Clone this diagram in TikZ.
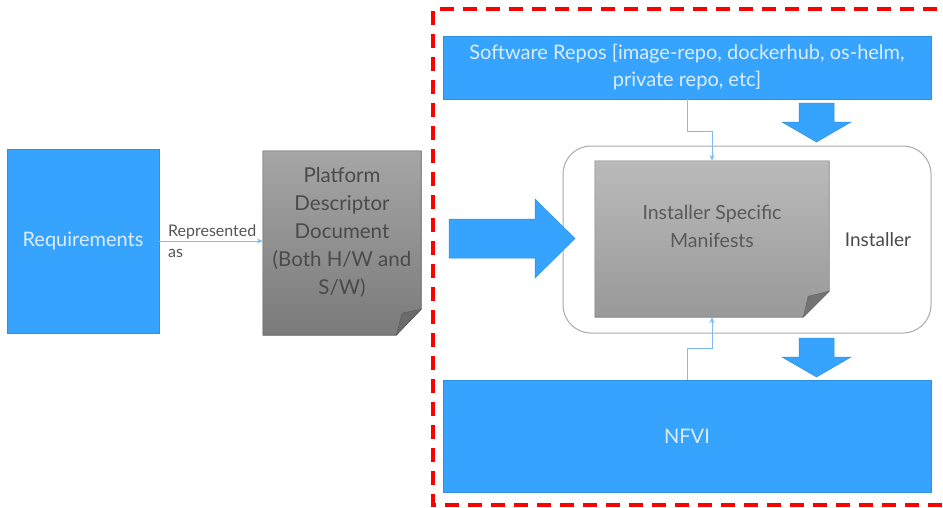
\documentclass[tikz,border=0pt]{standalone}
\usepackage{fontspec}
\setmainfont{Lato}
\usetikzlibrary{calc,arrows.meta}
\definecolor{blu}{HTML}{36A3FF}
\definecolor{bluborder}{HTML}{2F8FE0}
\definecolor{blutext}{HTML}{DCECFB}
\definecolor{connc}{HTML}{7DBDF5}
\definecolor{txtgray}{HTML}{4A4A4A}
\definecolor{lblgray}{HTML}{555555}
\definecolor{instborder}{HTML}{AAAAAA}
\begin{document}
\begin{tikzpicture}[x=1pt,y=-1pt,
  bluebox/.style={draw=bluborder, fill=blu, line width=0.8pt, text=blutext,
    font=\fontsize{20}{27}\selectfont, align=center, inner sep=0pt},
  connector/.style={draw=connc, line width=0.8pt, -{Stealth[length=6pt,width=5pt]}},
  blockarrow/.style={fill=blu, draw=bluborder, line width=0.5pt},
  docbox/.style={inner sep=0pt},
  doctext/.style={text=txtgray, align=center},
]
\useasboundingbox (0,0) rectangle (943,507);
\fill[white] (0,0) rectangle (943,507);

% red dashed boundary
\draw[red, line width=3.5pt, dash pattern=on 14pt off 9pt] (960,9) -- (433,9) -- (433,505) -- (960,505);

% Requirements
\node[bluebox, minimum width=152pt, minimum height=184pt] (req) at (83,241) {Requirements};

% Platform descriptor document
\node[docbox, minimum width=158pt, minimum height=184pt] (pdd) at (342,243) {};
\shade[top color=black!35, bottom color=black!52, draw=black!65, line width=0.6pt]
  (pdd.north west) -- (pdd.north east) -- ([yshift=26pt]pdd.south east)
  -- ([xshift=-25pt]pdd.south east) -- (pdd.south west) -- cycle;
\fill[black!58, draw=black!65, line width=0.4pt] ([xshift=-25pt]pdd.south east) -- ([yshift=26pt]pdd.south east)
  -- ([xshift=-19pt,yshift=22pt]pdd.south east) -- cycle;
\node[doctext, font=\fontsize{20.5}{28}\selectfont, anchor=north] (pddtext) at ([yshift=-13pt]pdd.north)
  {Platform\\Descriptor\\Document\\(Both H/W and\\S/W)};

% arrow Requirements -> PDD
\draw[connector] (req.east) -- (req.east -| pdd.west)
  node[pos=0, anchor=west, xshift=5pt, align=left, text=lblgray,
       font=\fontsize{16}{21}\selectfont] (lbl) {Represented\\as};

% Software repos
\node[bluebox, minimum width=488pt, minimum height=63pt] (repos) at (687,67.5)
  {Software Repos [image-repo, dockerhub, os-helm,\\private repo, etc]};

% Installer
\node[draw=instborder, line width=1pt, rounded corners=28pt, minimum width=368pt,
      minimum height=187pt, text width=328pt, inner xsep=20pt, align=right,
      text=txtgray, font=\fontsize{19}{27}\selectfont] (inst) at (747,239.5) {Installer};

% Installer specific manifests
\node[docbox, minimum width=234pt, minimum height=156pt] (man) at (712,239) {};
\shade[top color=black!27, bottom color=black!40, draw=black!50, line width=0.6pt]
  (man.north west) -- (man.north east) -- ([yshift=26pt]man.south east)
  -- ([xshift=-26pt]man.south east) -- (man.south west) -- cycle;
\fill[black!55, draw=black!60, line width=0.4pt] ([xshift=-26pt]man.south east) -- ([yshift=26pt]man.south east)
  -- ([xshift=-21pt,yshift=21pt]man.south east) -- cycle;
\node[doctext, font=\fontsize{19.5}{28}\selectfont, text=black!65] (mantext) at (712,226.5)
  {Installer Specific\\Manifests};

% NFVI
\node[bluebox, minimum width=488pt, minimum height=112pt] (nfvi) at (687,436) {NFVI};

% block arrows
\path[blockarrow] (449,219) -- (535,219) -- (535,199) -- (575,238.5) -- (535,278)
  -- (535,258) -- (449,258) -- cycle;
\path[blockarrow] (799,103) -- (834,103) -- (834,122) -- (851,122) -- (816.5,142)
  -- (782,122) -- (799,122) -- cycle;
\path[blockarrow] (799,338) -- (834,338) -- (834,357) -- (851,357) -- (816.5,377)
  -- (782,357) -- (799,357) -- cycle;

% thin connectors
\draw[connector] (repos.south) -- ++(0,32) -| (man.north);
\draw[connector] (nfvi.north) -- ++(0,-31) -| (man.south);
\end{tikzpicture}
\end{document}
